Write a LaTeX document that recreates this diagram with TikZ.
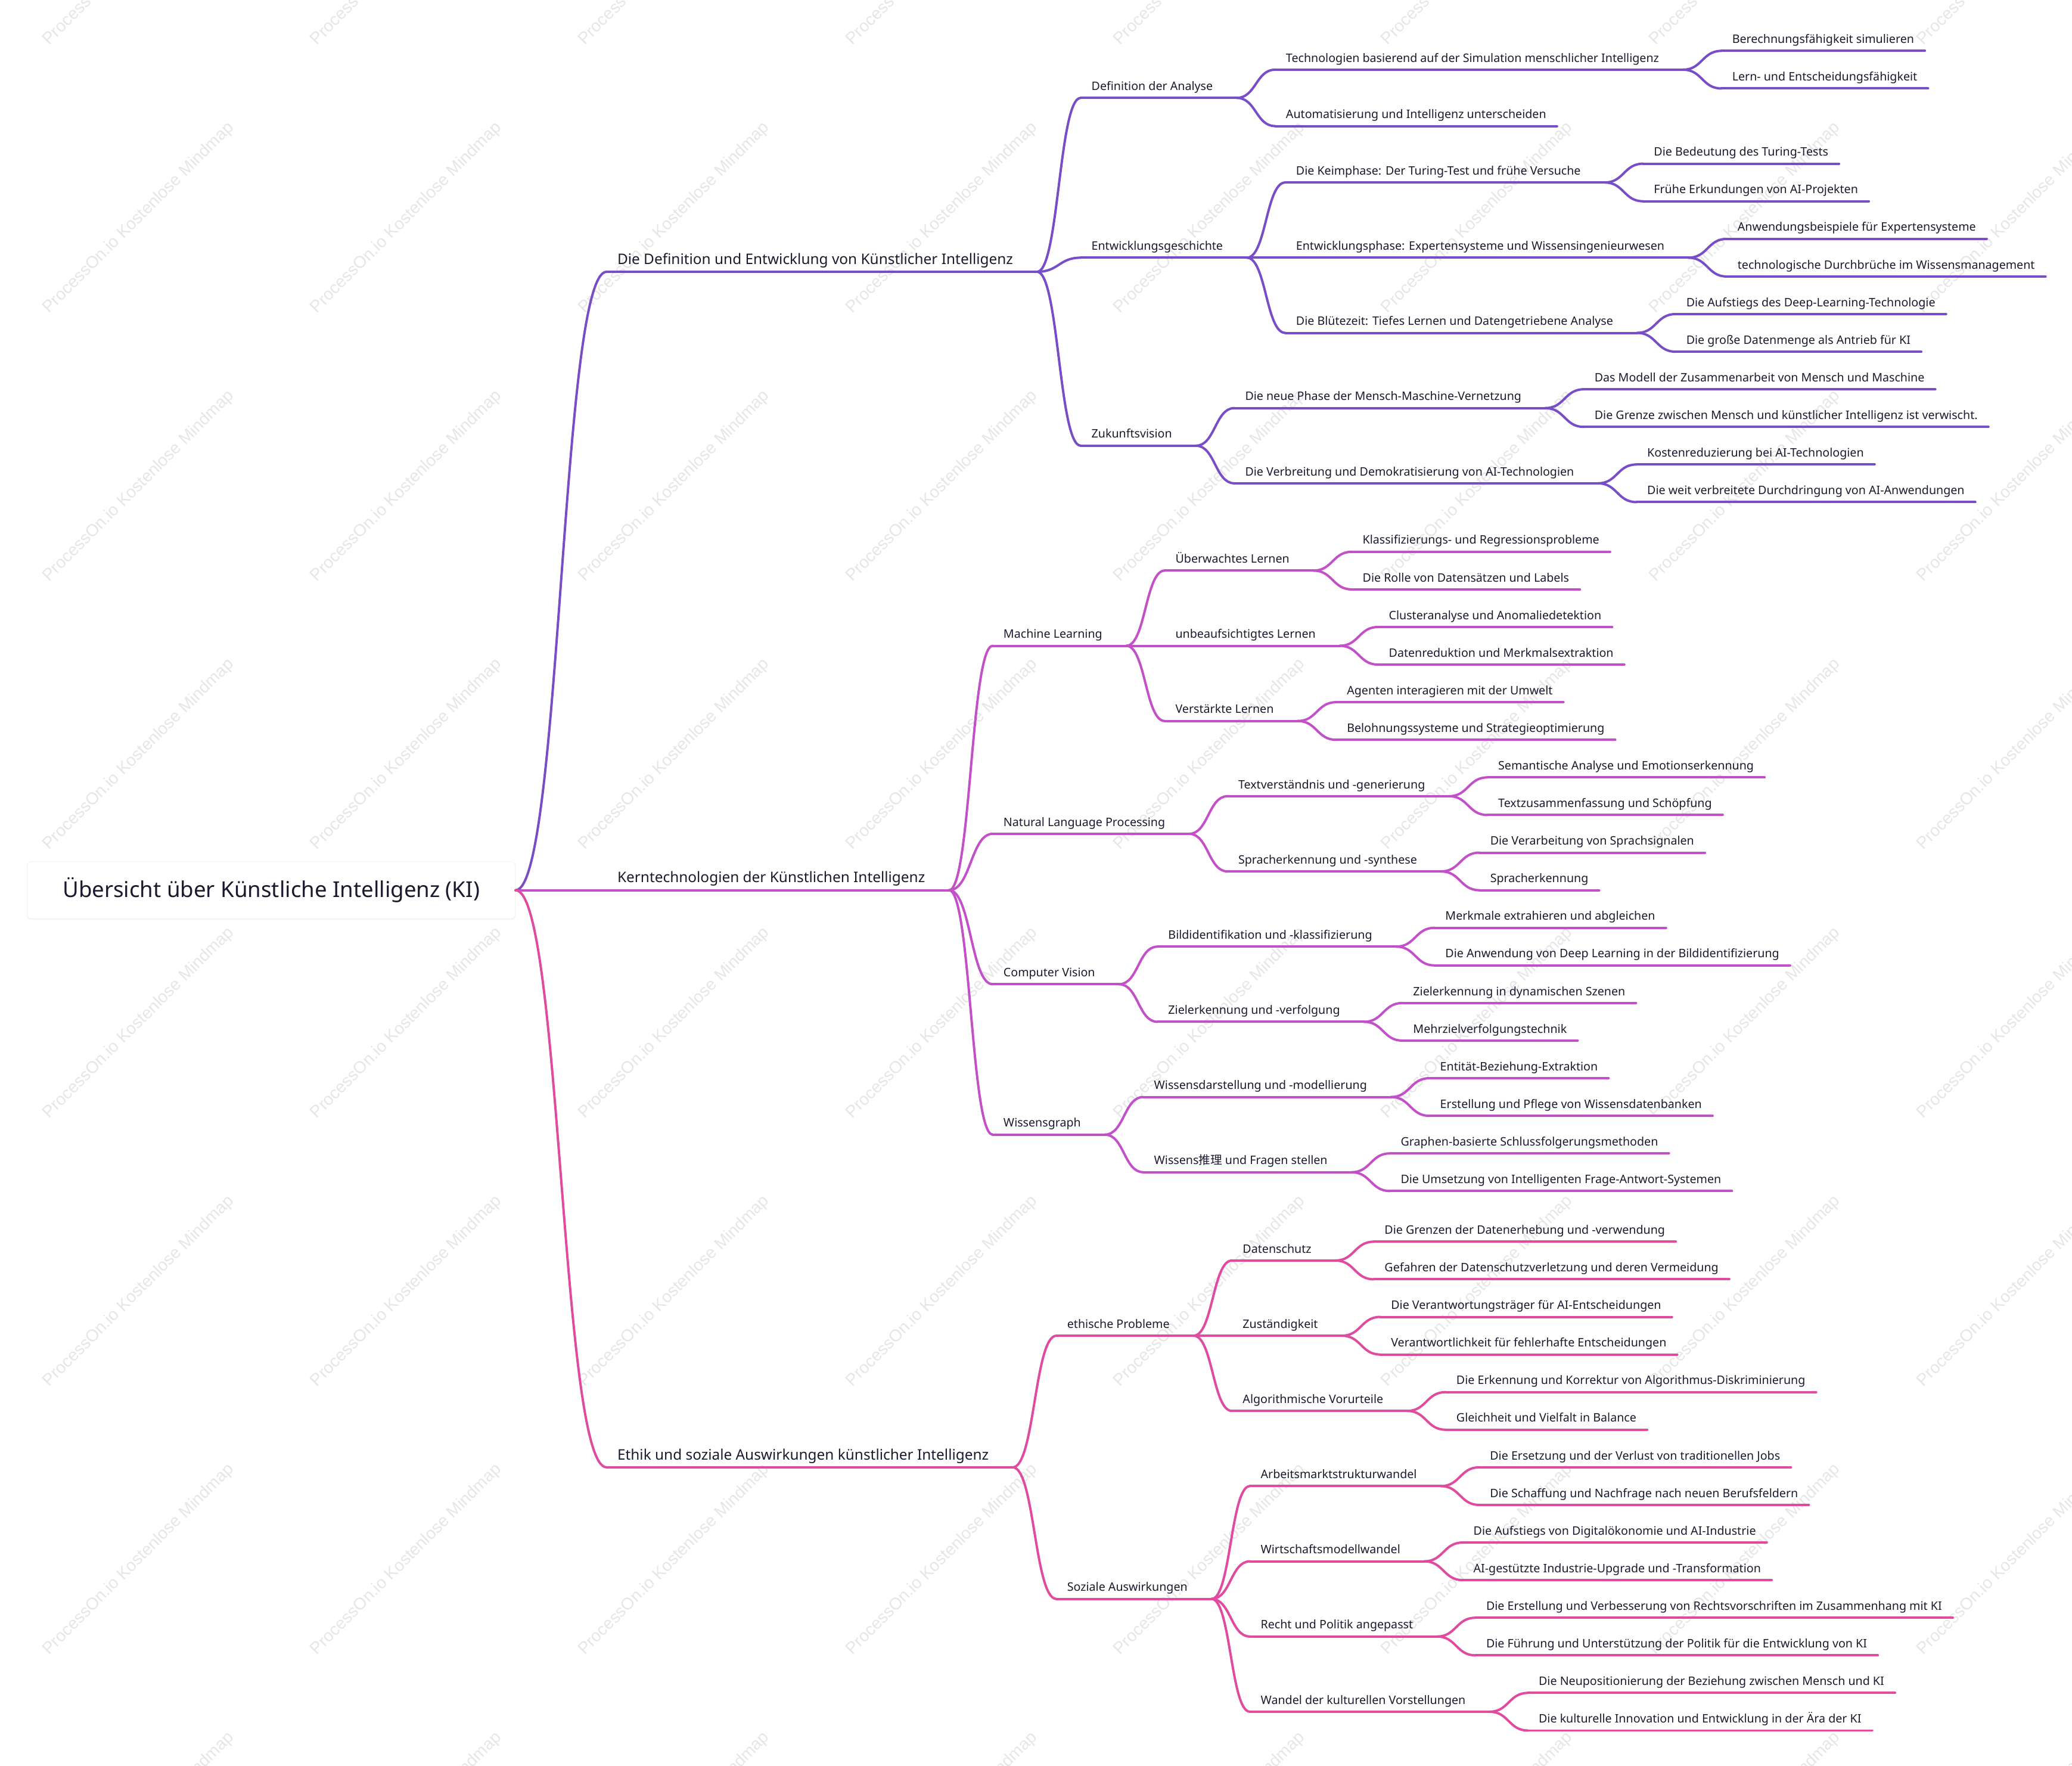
\documentclass[tikz,border=0pt]{standalone}
\usepackage{fontspec}
\setmainfont{Noto Sans}
\newfontfamily\cjkf{Noto Sans CJK SC}
\newfontfamily\wmfont{Liberation Sans}
\usetikzlibrary{calc,shadows}
\definecolor{cA}{HTML}{784EC8}
\definecolor{cB}{HTML}{C350C8}
\definecolor{cC}{HTML}{E04BA0}
\definecolor{txt}{HTML}{1A1A2E}
\definecolor{wm}{HTML}{E6E6E6}
\tikzset{
  mm/.style={inner sep=0pt, text=txt, font=\fontsize{8.86}{10}\selectfont, anchor=base west},
  mmone/.style={mm, font=\fontsize{11}{13}\selectfont},
  rootbox/.style={fill=white, draw=black!5, rounded corners=3pt, minimum width=369.5pt, minimum height=43pt, inner sep=0pt, text=txt, font=\fontsize{16.5}{19}\selectfont, drop shadow={shadow xshift=0pt, shadow yshift=-1pt, opacity=0.08}},
  conn/.style={line width=1.8pt, line cap=round, line join=round},
  wmark/.style={text=wm, font=\wmfont\fontsize{12.7}{14}\selectfont, rotate=45, inner sep=0pt}
}
\newcommand\mmcoords[1]{%
  \path (#1.base west) ++(-8,5.8) coordinate (#1-s);
  \path (#1.base east) ++(8,5.8) coordinate (#1-e);
  \path (#1.base east) ++(18,5.8) coordinate (#1-f);}
\newcommand\mmnode[6]{%
  \path (#3.base east) ++(#4,0) coordinate (tmpx);
  \path (0,#5-5.8) coordinate (tmpy);
  \node[#1] (#2) at (tmpx |- tmpy) {#6};
  \mmcoords{#2}}
\newcommand\scurve[3]{%
  \draw[conn,#1] let \p1=(#2), \p2=(#3) in (\p1) .. controls ({(\x1+\x2)/2},\y1) and ({(\x1+\x2)/2},\y2) .. (\p2);}
\newcommand\edg[3]{%
  \draw[conn,#1] (#2-e) -- (#2-f);
  \scurve{#1}{#2-f}{#3-s}}
\begin{document}
\begin{tikzpicture}[x=1pt,y=-1pt]
\useasboundingbox (0,0) rectangle (1568,1336.2);
% watermark
\foreach \i in {0,...,7}{
  \foreach \j in {-1,...,6}{
    \node[wmark] (wm-\i-\j) at ({105+202.6*\i},{165+203*\j}) {ProcessOn.io Kostenlose Mindmap};
  }
}
% root
\node[rootbox] (root) at (205.25,673.55) {Übersicht über Künstliche Intelligenz (KI)};
% level 1
\node[mmone] (a) at (467,205.64-5.8) {Die Definition und Entwicklung von Künstlicher Intelligenz}; \mmcoords{a}
\node[mmone] (b) at (467,673.55-5.8) {Kerntechnologien der Künstlichen Intelligenz}; \mmcoords{b}
\node[mmone] (c) at (467,1110.2-5.8) {Ethik und soziale Auswirkungen künstlicher Intelligenz}; \mmcoords{c}
% branch A
\mmnode{mm}{a1}{a}{59}{74.06}{Definition der Analyse}
\mmnode{mm}{a11}{a1}{55}{52.725}{Technologien basierend auf der Simulation menschlicher Intelligenz}
\mmnode{mm}{a111}{a11}{55}{38.5}{Berechnungsfähigkeit simulieren}
\mmnode{mm}{a112}{a11}{55}{66.95}{Lern- und Entscheidungsfähigkeit}
\mmnode{mm}{a12}{a1}{55}{95.4}{Automatisierung und Intelligenz unterscheiden}
\mmnode{mm}{a2}{a}{59}{194.975}{Entwicklungsgeschichte}
\mmnode{mm}{a21}{a2}{55}{138.075}{Die Keimphase: Der Turing-Test und frühe Versuche}
\mmnode{mm}{a211}{a21}{55}{123.85}{Die Bedeutung des Turing-Tests}
\mmnode{mm}{a212}{a21}{55}{152.3}{Frühe Erkundungen von AI-Projekten}
\mmnode{mm}{a22}{a2}{55}{194.975}{Entwicklungsphase: Expertensysteme und Wissensingenieurwesen}
\mmnode{mm}{a221}{a22}{55}{180.75}{Anwendungsbeispiele für Expertensysteme}
\mmnode{mm}{a222}{a22}{55}{209.2}{technologische Durchbrüche im Wissensmanagement}
\mmnode{mm}{a23}{a2}{55}{251.875}{Die Blütezeit: Tiefes Lernen und Datengetriebene Analyse}
\mmnode{mm}{a231}{a23}{55}{237.65}{Die Aufstiegs des Deep-Learning-Technologie}
\mmnode{mm}{a232}{a23}{55}{266.1}{Die große Datenmenge als Antrieb für KI}
\mmnode{mm}{a3}{a}{59}{337.225}{Zukunftsvision}
\mmnode{mm}{a31}{a3}{55}{308.775}{Die neue Phase der Mensch-Maschine-Vernetzung}
\mmnode{mm}{a311}{a31}{55}{294.55}{Das Modell der Zusammenarbeit von Mensch und Maschine}
\mmnode{mm}{a312}{a31}{55}{323.0}{Die Grenze zwischen Mensch und künstlicher Intelligenz ist verwischt.}
\mmnode{mm}{a32}{a3}{55}{365.675}{Die Verbreitung und Demokratisierung von AI-Technologien}
\mmnode{mm}{a321}{a32}{55}{351.45}{Kostenreduzierung bei AI-Technologien}
\mmnode{mm}{a322}{a32}{55}{379.9}{Die weit verbreitete Durchdringung von AI-Anwendungen}
% branch B
\mmnode{mm}{b1}{b}{59}{488.625}{Machine Learning}
\mmnode{mm}{b11}{b1}{55}{431.725}{Überwachtes Lernen}
\mmnode{mm}{b111}{b11}{55}{417.5}{Klassifizierungs- und Regressionsprobleme}
\mmnode{mm}{b112}{b11}{55}{445.95}{Die Rolle von Datensätzen und Labels}
\mmnode{mm}{b12}{b1}{55}{488.625}{unbeaufsichtigtes Lernen}
\mmnode{mm}{b121}{b12}{55}{474.4}{Clusteranalyse und Anomaliedetektion}
\mmnode{mm}{b122}{b12}{55}{502.85}{Datenreduktion und Merkmalsextraktion}
\mmnode{mm}{b13}{b1}{55}{545.525}{Verstärkte Lernen}
\mmnode{mm}{b131}{b13}{55}{531.3}{Agenten interagieren mit der Umwelt}
\mmnode{mm}{b132}{b13}{55}{559.75}{Belohnungssysteme und Strategieoptimierung}
\mmnode{mm}{b2}{b}{59}{630.875}{Natural Language Processing}
\mmnode{mm}{b21}{b2}{55}{602.425}{Textverständnis und -generierung}
\mmnode{mm}{b211}{b21}{55}{588.2}{Semantische Analyse und Emotionserkennung}
\mmnode{mm}{b212}{b21}{55}{616.65}{Textzusammenfassung und Schöpfung}
\mmnode{mm}{b22}{b2}{55}{659.325}{Spracherkennung und -synthese}
\mmnode{mm}{b221}{b22}{55}{645.1}{Die Verarbeitung von Sprachsignalen}
\mmnode{mm}{b222}{b22}{55}{673.55}{Spracherkennung}
\mmnode{mm}{b3}{b}{59}{744.675}{Computer Vision}
\mmnode{mm}{b31}{b3}{55}{716.225}{Bildidentifikation und -klassifizierung}
\mmnode{mm}{b311}{b31}{55}{702.0}{Merkmale extrahieren und abgleichen}
\mmnode{mm}{b312}{b31}{55}{730.45}{Die Anwendung von Deep Learning in der Bildidentifizierung}
\mmnode{mm}{b32}{b3}{55}{773.125}{Zielerkennung und -verfolgung}
\mmnode{mm}{b321}{b32}{55}{758.9}{Zielerkennung in dynamischen Szenen}
\mmnode{mm}{b322}{b32}{55}{787.35}{Mehrzielverfolgungstechnik}
\mmnode{mm}{b4}{b}{59}{858.475}{Wissensgraph}
\mmnode{mm}{b41}{b4}{55}{830.025}{Wissensdarstellung und -modellierung}
\mmnode{mm}{b411}{b41}{55}{815.8}{Entität-Beziehung-Extraktion}
\mmnode{mm}{b412}{b41}{55}{844.25}{Erstellung und Pflege von Wissensdatenbanken}
\mmnode{mm}{b42}{b4}{55}{886.925}{Wissens{\cjkf 推理} und Fragen stellen}
\mmnode{mm}{b421}{b42}{55}{872.7}{Graphen-basierte Schlussfolgerungsmethoden}
\mmnode{mm}{b422}{b42}{55}{901.15}{Die Umsetzung von Intelligenten Frage-Antwort-Systemen}
% branch C
\mmnode{mm}{c1}{c}{59}{1010.625}{ethische Probleme}
\mmnode{mm}{c11}{c1}{55}{953.725}{Datenschutz}
\mmnode{mm}{c111}{c11}{55}{939.5}{Die Grenzen der Datenerhebung und -verwendung}
\mmnode{mm}{c112}{c11}{55}{967.95}{Gefahren der Datenschutzverletzung und deren Vermeidung}
\mmnode{mm}{c12}{c1}{55}{1010.625}{Zuständigkeit}
\mmnode{mm}{c121}{c12}{55}{996.4}{Die Verantwortungsträger für AI-Entscheidungen}
\mmnode{mm}{c122}{c12}{55}{1024.85}{Verantwortlichkeit für fehlerhafte Entscheidungen}
\mmnode{mm}{c13}{c1}{55}{1067.525}{Algorithmische Vorurteile}
\mmnode{mm}{c131}{c13}{55}{1053.3}{Die Erkennung und Korrektur von Algorithmus-Diskriminierung}
\mmnode{mm}{c132}{c13}{55}{1081.75}{Gleichheit und Vielfalt in Balance}
\mmnode{mm}{c2}{c}{59}{1209.775}{Soziale Auswirkungen}
\mmnode{mm}{c21}{c2}{55}{1124.425}{Arbeitsmarktstrukturwandel}
\mmnode{mm}{c211}{c21}{55}{1110.2}{Die Ersetzung und der Verlust von traditionellen Jobs}
\mmnode{mm}{c212}{c21}{55}{1138.65}{Die Schaffung und Nachfrage nach neuen Berufsfeldern}
\mmnode{mm}{c22}{c2}{55}{1181.325}{Wirtschaftsmodellwandel}
\mmnode{mm}{c221}{c22}{55}{1167.1}{Die Aufstiegs von Digitalökonomie und AI-Industrie}
\mmnode{mm}{c222}{c22}{55}{1195.55}{AI-gestützte Industrie-Upgrade und -Transformation}
\mmnode{mm}{c23}{c2}{55}{1238.225}{Recht und Politik angepasst}
\mmnode{mm}{c231}{c23}{55}{1224.0}{Die Erstellung und Verbesserung von Rechtsvorschriften im Zusammenhang mit KI}
\mmnode{mm}{c232}{c23}{55}{1252.45}{Die Führung und Unterstützung der Politik für die Entwicklung von KI}
\mmnode{mm}{c24}{c2}{55}{1295.125}{Wandel der kulturellen Vorstellungen}
\mmnode{mm}{c241}{c24}{55}{1280.9}{Die Neupositionierung der Beziehung zwischen Mensch und KI}
\mmnode{mm}{c242}{c24}{55}{1309.35}{Die kulturelle Innovation und Entwicklung in der Ära der KI}
% root connectors
\scurve{cA}{root.east}{a-s}
\draw[conn,cB] (root.east) -- (b-s);
\scurve{cC}{root.east}{c-s}
% underlines
\foreach \n in {a,a1,a11,a111,a112,a12,a2,a21,a211,a212,a22,a221,a222,a23,a231,a232,a3,a31,a311,a312,a32,a321,a322}
  \draw[conn,cA] (\n-s) -- (\n-e);
\foreach \n in {b,b1,b11,b111,b112,b12,b121,b122,b13,b131,b132,b2,b21,b211,b212,b22,b221,b222,b3,b31,b311,b312,b32,b321,b322,b4,b41,b411,b412,b42,b421,b422}
  \draw[conn,cB] (\n-s) -- (\n-e);
\foreach \n in {c,c1,c11,c111,c112,c12,c121,c122,c13,c131,c132,c2,c21,c211,c212,c22,c221,c222,c23,c231,c232,c24,c241,c242}
  \draw[conn,cC] (\n-s) -- (\n-e);
% edges
\foreach \pa/\ch in {a/a1,a/a2,a/a3,a1/a11,a11/a111,a11/a112,a1/a12,a2/a21,a21/a211,a21/a212,a2/a22,a22/a221,a22/a222,a2/a23,a23/a231,a23/a232,a3/a31,a31/a311,a31/a312,a3/a32,a32/a321,a32/a322}
  {\edg{cA}{\pa}{\ch}}
\foreach \pa/\ch in {b/b1,b/b2,b/b3,b/b4,b1/b11,b11/b111,b11/b112,b1/b12,b12/b121,b12/b122,b1/b13,b13/b131,b13/b132,b2/b21,b21/b211,b21/b212,b2/b22,b22/b221,b22/b222,b3/b31,b31/b311,b31/b312,b3/b32,b32/b321,b32/b322,b4/b41,b41/b411,b41/b412,b4/b42,b42/b421,b42/b422}
  {\edg{cB}{\pa}{\ch}}
\foreach \pa/\ch in {c/c1,c/c2,c1/c11,c11/c111,c11/c112,c1/c12,c12/c121,c12/c122,c1/c13,c13/c131,c13/c132,c2/c21,c21/c211,c21/c212,c2/c22,c22/c221,c22/c222,c2/c23,c23/c231,c23/c232,c2/c24,c24/c241,c24/c242}
  {\edg{cC}{\pa}{\ch}}
\end{tikzpicture}
\end{document}
